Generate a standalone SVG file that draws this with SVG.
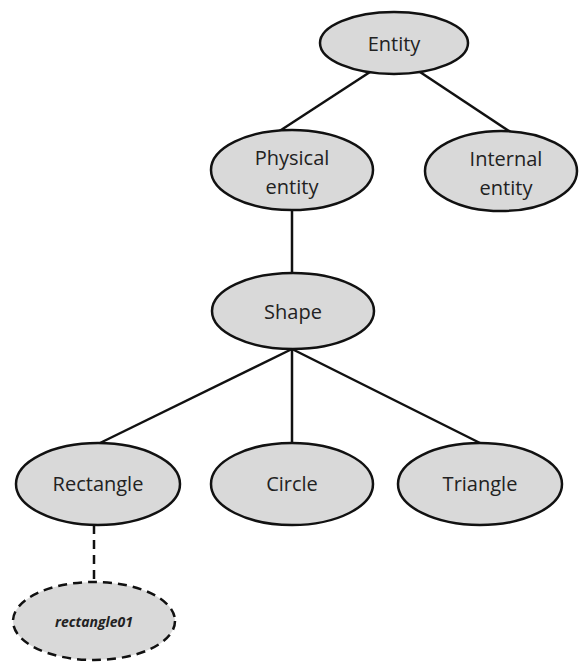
<svg xmlns="http://www.w3.org/2000/svg" width="579" height="666" viewBox="0 0 579 666">
<style>
.n{fill:#d9d9d9;stroke:#111;stroke-width:2.5}
.d{fill:#d9d9d9;stroke:#111;stroke-width:2.5;stroke-dasharray:9 6}
.t{font-family:"Open Sans","Liberation Sans",sans-serif;font-size:20px;fill:#222;text-anchor:middle;dominant-baseline:central}
.i{font-family:"Open Sans","Liberation Sans",sans-serif;font-size:14px;font-weight:bold;font-style:italic;fill:#222;text-anchor:middle;dominant-baseline:central}
.e{stroke:#111;stroke-width:2.5;fill:none}
</style>
<rect width="579" height="666" fill="#fff"/>
<g id="connectors">
<line class="e" x1="370" y1="72" x2="278" y2="132"/>
<line class="e" x1="420" y1="72" x2="512" y2="133"/>
<line class="e" x1="292" y1="210" x2="292" y2="273"/>
<line class="e" x1="292" y1="349" x2="100" y2="443"/>
<line class="e" x1="292" y1="349" x2="292" y2="443"/>
<line class="e" x1="292" y1="349" x2="480" y2="443"/>
<line class="e" x1="94" y1="525" x2="94" y2="582" stroke-dasharray="9 6"/>
</g>
<g id="entity"><ellipse class="n" cx="394" cy="43" rx="74" ry="31"/><text class="t" x="394" y="43">Entity</text></g>
<g id="physical-entity"><ellipse class="n" cx="292" cy="170" rx="81" ry="40"/><text class="t" x="292" y="157">Physical</text><text class="t" x="292" y="186">entity</text></g>
<g id="internal-entity"><ellipse class="n" cx="501" cy="171" rx="76" ry="40"/><text class="t" x="506" y="158">Internal</text><text class="t" x="506" y="187">entity</text></g>
<g id="shape"><ellipse class="n" cx="293" cy="311" rx="81" ry="38"/><text class="t" x="293" y="311">Shape</text></g>
<g id="rectangle"><ellipse class="n" cx="98" cy="484" rx="82" ry="41"/><text class="t" x="98" y="483">Rectangle</text></g>
<g id="circle"><ellipse class="n" cx="292" cy="484" rx="81" ry="41"/><text class="t" x="292" y="483">Circle</text></g>
<g id="triangle"><ellipse class="n" cx="480" cy="484" rx="82" ry="41"/><text class="t" x="480" y="483">Triangle</text></g>
<g id="rectangle01"><ellipse class="d" cx="94" cy="621" rx="81" ry="39"/><text class="i" x="94" y="621">rectangle01</text></g>
</svg>
